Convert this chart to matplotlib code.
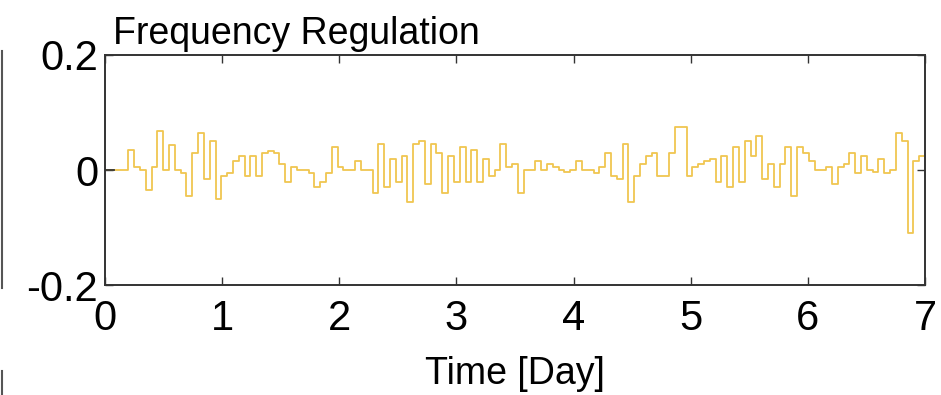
import matplotlib
matplotlib.use("Agg")
import matplotlib.pyplot as plt
from matplotlib.lines import Line2D
import numpy as np

# frequency regulation signal, one value per step over 7 days
freq_reg = [
    # day 0
    0.0, 0.0, 0.0, 0.0, 0.035, 0.005, 0.0, -0.035, 0.005, 0.067, 0.0, 0.043,
    0.0, -0.005, -0.045, 0.03, 0.065, -0.015, 0.05, -0.05, -0.01,
    # day 1
    -0.005, 0.015, 0.025, -0.01, 0.025, -0.01, 0.03, 0.033, 0.03, 0.01, -0.02,
    0.005, 0.0, 0.0, -0.005, -0.03, -0.02, -0.005, 0.04, 0.005, 0.0,
    # day 2
    0.0, 0.015, 0.0, 0.0, -0.04, 0.045, -0.03, 0.02, -0.02, 0.025, -0.055,
    0.045, 0.05, -0.025, 0.045, 0.03, -0.04, 0.025, -0.02, 0.04,
    # day 3
    -0.02, 0.035, -0.02, 0.02, -0.01, 0.0, 0.045, 0.005, 0.01, -0.04, 0.0,
    0.0, 0.015, 0.0, 0.01, 0.005, 0.0, -0.003, 0.0,
    # day 4
    0.015, 0.0, 0.0, -0.005, 0.005, 0.03, -0.01, -0.015, 0.045, -0.055,
    -0.01, 0.01, 0.025, 0.03, -0.01, -0.01, 0.03, 0.075, 0.075, -0.01,
    # day 5
    0.005, 0.01, 0.015, 0.02, -0.02, 0.025, -0.03, 0.04, -0.02, 0.05, 0.025,
    0.06, -0.015, 0.01, -0.03, 0.01, 0.04, -0.045, 0.04, 0.03,
    # day 6
    0.015, 0.0, 0.0, 0.005, -0.025, 0.005, 0.01, 0.03, -0.005, 0.025, 0.0,
    -0.003, 0.02, -0.005, 0.0, 0.065, 0.05, -0.11, 0.015, 0.025,
]
x_ticks = [0, 1, 2, 3, 4, 5, 6, 7]
y_ticks = [-0.2, 0, 0.2]
y_tick_labels = ["-0.2", "0", "0.2"]

line_color = "#F0C650"
font = ["Liberation Sans", "DejaVu Sans"]

n = len(freq_reg)
t_edges = np.linspace(0, 7, n + 1)
vals = np.append(freq_reg, freq_reg[-1])

fig = plt.figure(figsize=(9.41, 3.95), dpi=100)
ax = fig.add_axes([0.1116, 0.278, 0.8714, 0.583])

ax.step(t_edges, vals, where="post", color=line_color, linewidth=1.3)
ax.plot([0, 0.08], [0, 0], color="#333333", linewidth=1.3)

ax.set_xlim(0, 7)
ax.set_ylim(-0.2, 0.2)
ax.set_xticks(x_ticks)
ax.set_yticks(y_ticks)
ax.set_yticklabels(y_tick_labels)
ax.tick_params(direction="in", top=True, right=True, length=6, width=1,
               color="#333333", labelsize=30, pad=5)
ax.tick_params(axis="x", pad=10)
for lab in ax.get_xticklabels() + ax.get_yticklabels():
    lab.set_family(font)
for s in ax.spines.values():
    s.set_color("#333333")
    s.set_linewidth(1.4)

ax.set_xlabel("Time [Day]", fontsize=27, family=font, labelpad=12)
ax.set_title("Frequency Regulation", fontsize=27, family=font,
             loc="left", pad=8, x=0.01)

# edge of neighbouring panel
fig.add_artist(Line2D([0.002, 0.002], [0.27, 0.87], transform=fig.transFigure,
                      color="#555555", linewidth=1.5))
fig.add_artist(Line2D([0.002, 0.002], [0.0, 0.06], transform=fig.transFigure,
                      color="#555555", linewidth=1.5))

fig.savefig("out.png", dpi=100)
